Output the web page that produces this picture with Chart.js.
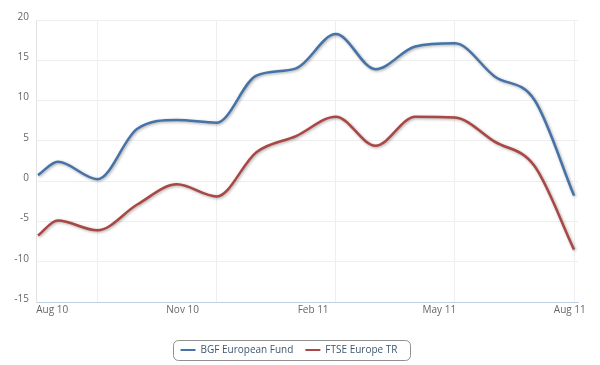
<!DOCTYPE html>
<html lang="en">
<head>
    <meta charset="UTF-8">
    <title>BGF European Fund vs FTSE Europe TR</title>
    <script src="https://cdn.jsdelivr.net/npm/chart.js"></script>
    <style>
        html, body {
            margin: 0;
            padding: 0;
            background: #fff;
        }
        #wrap {
            width: 600px;
            height: 365px;
        }
    </style>
</head>
<body>

    <div id="wrap"><canvas id="perfChart"></canvas></div>

    <script>
        // x = days since 1 Aug 2010 (roughly 4-weekly points)
        const days = [-10, 4, 32, 60, 88, 116, 144, 172, 200, 228, 256, 284, 312, 340, 368];
        const bgfFund = [0.75, 2.4, 0.25, 6.5, 7.6, 7.25, 13.1, 14.0, 18.25, 13.9, 16.7, 17.1, 13.0, 10.1, -1.8];
        const ftseTR = [-6.75, -4.9, -6.1, -2.9, -0.4, -1.9, 3.6, 5.6, 8.0, 4.4, 8.0, 7.9, 4.9, 1.9, -8.5];

        const tickDays = [0, 92, 184, 273, 365];
        const tickLabels = ['Aug 10', 'Nov 10', 'Feb 11', 'May 11', 'Aug 11'];
        const gridDays = [32, 116, 200, 284, 368];

        const seriesNames = ['BGF European Fund', 'FTSE Europe TR'];
        const seriesColors = ['#4572A7', '#AA4643'];

        Chart.defaults.font.family = '"Open Sans", sans-serif';
        Chart.defaults.font.size = 10;

        // soft grey shadow under the lines
        const lineShadow = {
            id: 'lineShadow',
            beforeDatasetDraw(chart) {
                const ctx = chart.ctx;
                ctx.save();
                ctx.shadowColor = 'rgba(0,0,0,0.35)';
                ctx.shadowBlur = 3;
                ctx.shadowOffsetX = 1;
                ctx.shadowOffsetY = 1;
            },
            afterDatasetDraw(chart) {
                chart.ctx.restore();
            }
        };

        // rounded frame around the legend
        const legendFrame = {
            id: 'legendFrame',
            afterDraw(chart) {
                const lg = chart.legend;
                if (!lg || !lg.legendHitBoxes.length) return;
                const boxes = lg.legendHitBoxes;
                const left = Math.min(...boxes.map(b => b.left)) - 8;
                const right = Math.max(...boxes.map(b => b.left + b.width)) + 12;
                const mid = boxes[0].top + boxes[0].height / 2;
                const ctx = chart.ctx;
                ctx.save();
                ctx.strokeStyle = '#909090';
                ctx.lineWidth = 1;
                ctx.beginPath();
                ctx.roundRect(Math.round(left) + 0.5, Math.round(mid - 10) + 0.5, Math.round(right - left), 20, 5);
                ctx.stroke();
                ctx.restore();
            }
        };

        const ctx = document.getElementById('perfChart').getContext('2d');
        const perfChart = new Chart(ctx, {
            type: 'line',
            data: {
                datasets: [bgfFund, ftseTR].map((vals, i) => ({
                    label: seriesNames[i],
                    data: vals.map((v, j) => ({ x: days[j], y: v })),
                    borderColor: seriesColors[i],
                    backgroundColor: seriesColors[i],
                    borderWidth: 2.5,
                    pointRadius: 0,
                    pointHoverRadius: 0,
                    fill: false,
                    cubicInterpolationMode: 'monotone'
                }))
            },
            plugins: [lineShadow, legendFrame],
            options: {
                responsive: true,
                maintainAspectRatio: false,
                animation: false,
                layout: {
                    padding: { top: 20, right: 22, bottom: 0, left: 0 }
                },
                plugins: {
                    tooltip: { enabled: false },
                    legend: {
                        position: 'bottom',
                        labels: {
                            color: '#3E576F',
                            font: { size: 10 },
                            boxWidth: 15,
                            boxHeight: 2,
                            padding: 12,
                            generateLabels(chart) {
                                return Chart.defaults.plugins.legend.labels.generateLabels(chart)
                                    .map(l => Object.assign(l, { lineWidth: 0 }));
                            }
                        }
                    }
                },
                scales: {
                    x: {
                        type: 'linear',
                        min: -11.4,
                        max: 370.8,
                        afterBuildTicks(scale) {
                            scale.ticks = tickDays.map(v => ({ value: v }));
                        },
                        afterFit(scale) {
                            scale.height = 31;
                        },
                        grid: { display: false, drawTicks: false },
                        border: { display: true, color: '#C0D0E0', width: 1 },
                        ticks: {
                            autoSkip: false,
                            maxRotation: 0,
                            padding: 2,
                            color: '#666',
                            callback: v => tickLabels[tickDays.indexOf(v)]
                        }
                    },
                    xg: {
                        type: 'linear',
                        position: 'bottom',
                        min: -11.4,
                        max: 370.8,
                        afterBuildTicks(scale) {
                            scale.ticks = gridDays.map(v => ({ value: v }));
                        },
                        afterFit(scale) {
                            scale.height = 0;
                        },
                        grid: { color: '#eeeeee', drawTicks: false },
                        border: { display: false },
                        ticks: { display: false }
                    },
                    y: {
                        min: -15,
                        max: 20,
                        afterFit(scale) {
                            scale.width = 36;
                        },
                        grid: { color: '#eeeeee', drawTicks: false },
                        border: { display: true, color: '#e4e4e4', width: 1 },
                        ticks: {
                            stepSize: 5,
                            padding: 7,
                            labelOffset: -3,
                            color: '#666'
                        }
                    }
                }
            }
        });
    </script>

</body>
</html>
